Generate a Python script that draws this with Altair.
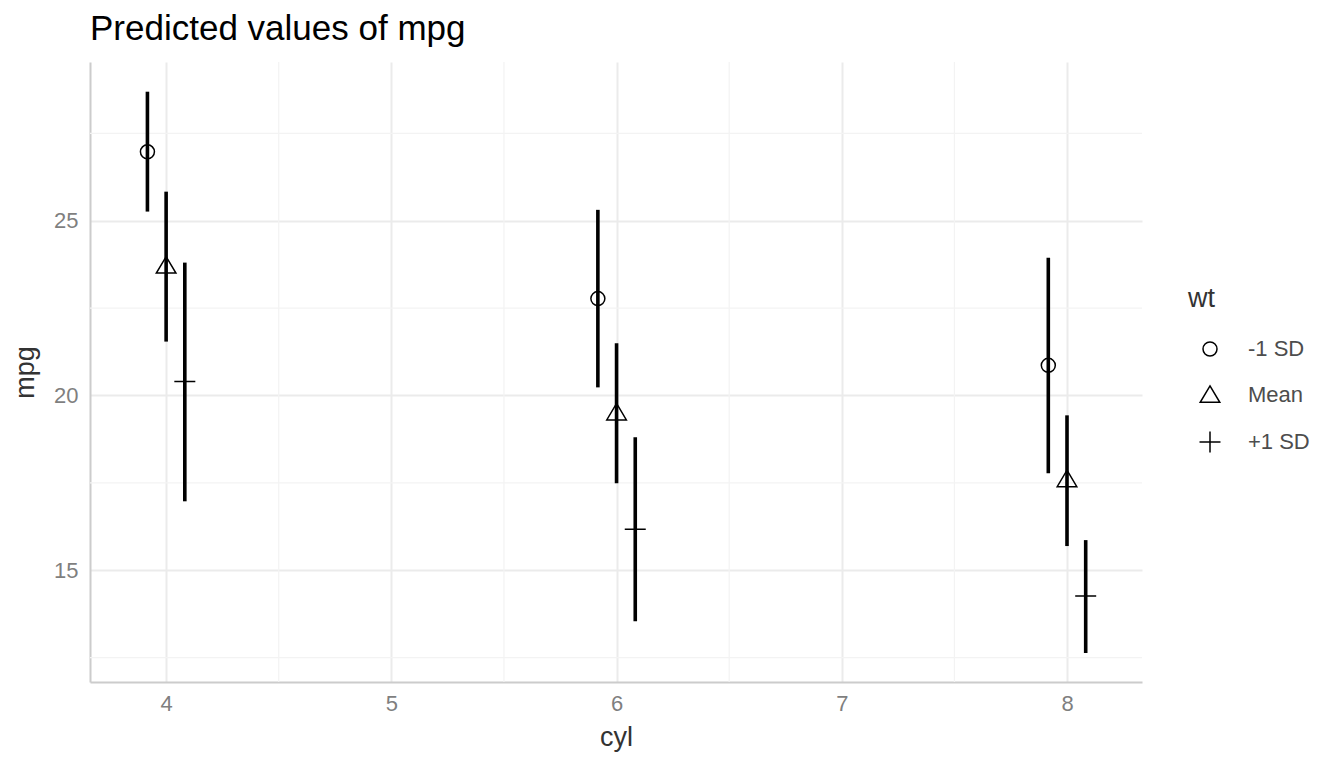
import altair as alt
import pandas as pd

# ---- data ----
cyl_values = [4, 6, 8]
wt_levels = ["-1 SD", "Mean", "+1 SD"]
pred_minus = [26.97, 22.77, 20.86]
pred_mean = [23.71, 19.51, 17.60]
pred_plus = [20.40, 16.17, 14.26]
low_minus = [25.26, 20.23, 17.77]
low_mean = [21.54, 17.49, 15.69]
low_plus = [16.97, 13.54, 12.63]
high_minus = [28.69, 25.31, 23.94]
high_mean = [25.83, 21.49, 19.43]
high_plus = [23.80, 18.80, 15.86]
x_ticks = [4, 5, 6, 7, 8]
y_ticks = [15, 20, 25]
x_minor = [4.5, 5.5, 6.5, 7.5]
y_minor = [12.5, 17.5, 22.5, 27.5]

preds = [pred_minus, pred_mean, pred_plus]
lows = [low_minus, low_mean, low_plus]
highs = [high_minus, high_mean, high_plus]
rows = []
for gi, g in enumerate(wt_levels):
    for ci, c in enumerate(cyl_values):
        rows.append({"cyl": c, "wt": g, "order": gi,
                     "predicted": preds[gi][ci], "low": lows[gi][ci], "high": highs[gi][ci]})
df = pd.DataFrame(rows)
df_xminor = pd.DataFrame({"v": x_minor})
df_yminor = pd.DataFrame({"v": y_minor})

DODGE = 0.083
FONT = "Liberation Sans"

x_scale = alt.Scale(domain=[3.662, 8.333], nice=False, zero=False)
y_scale = alt.Scale(domain=[11.8, 29.54], nice=False, zero=False)
x_axis = alt.Axis(values=x_ticks, title="cyl", labelPadding=11, titlePadding=10)
y_axis = alt.Axis(values=y_ticks, title="mpg", labelPadding=12, titlePadding=14)

TRI = "M0,-1.3L1.4,1.05L-1.4,1.05Z"
CROSS = "M-1.5,0H1.5M0,-1.5V1.5"
shape_scale = alt.Scale(domain=wt_levels, range=["circle", TRI, CROSS])

base = alt.Chart(df).transform_calculate(
    xd=f"datum.cyl + (datum.order - 1) * {DODGE}"
)

minor_x = alt.Chart(df_xminor).mark_rule(color="#f3f3f3", strokeWidth=1.2).encode(
    x=alt.X("v:Q", scale=x_scale, axis=x_axis)
)
minor_y = alt.Chart(df_yminor).mark_rule(color="#f3f3f3", strokeWidth=1.2).encode(
    y=alt.Y("v:Q", scale=y_scale, axis=y_axis)
)

bars = base.mark_rule(color="black", strokeWidth=3.6).encode(
    x=alt.X("xd:Q", scale=x_scale, axis=x_axis),
    y=alt.Y("low:Q", scale=y_scale, axis=y_axis),
    y2="high:Q",
)

points = base.mark_point(filled=False, color="black", size=196, strokeWidth=1.5, opacity=1).encode(
    x=alt.X("xd:Q", scale=x_scale, axis=x_axis),
    y=alt.Y("predicted:Q", scale=y_scale, axis=y_axis),
    shape=alt.Shape("wt:N", scale=shape_scale, sort=wt_levels,
                    legend=alt.Legend(title="wt")),
)

chart = alt.layer(minor_x, minor_y, bars, points).properties(
    width=1052,
    height=620,
    autosize=alt.AutoSizeParams(type="none"),
    padding={"left": 82, "top": 54, "right": 194, "bottom": 78},
    title=alt.TitleParams(
        "Predicted values of mpg", anchor="start", frame="group",
        fontSize=35, font=FONT, color="black", fontWeight="normal",
        baseline="top", offset=14,
    ),
).configure_view(
    stroke=None
).configure_axis(
    labelFont=FONT, titleFont=FONT,
    labelFontSize=22, titleFontSize=27,
    labelColor="#7f7f7f", titleColor="#333333",
    titleFontWeight="normal",
    ticks=False, tickSize=0,
    domain=True, domainColor="#cccccc", domainWidth=2,
    grid=True, gridColor="#ebebeb", gridWidth=2,
).configure_legend(
    orient="none", legendX=1098, legendY=224, padding=0,
    titleFont=FONT, labelFont=FONT, titleFontSize=27, labelFontSize=22,
    titleColor="#333333", labelColor="#4d4d4d", titleFontWeight="normal",
    titlePadding=25, rowPadding=22, symbolOffset=11, labelOffset=27,
    symbolSize=196, symbolStrokeWidth=1.5, symbolStrokeColor="black",
    symbolFillColor="transparent",
)

chart.save("out.html", embed_options={"renderer": "svg", "actions": False})
